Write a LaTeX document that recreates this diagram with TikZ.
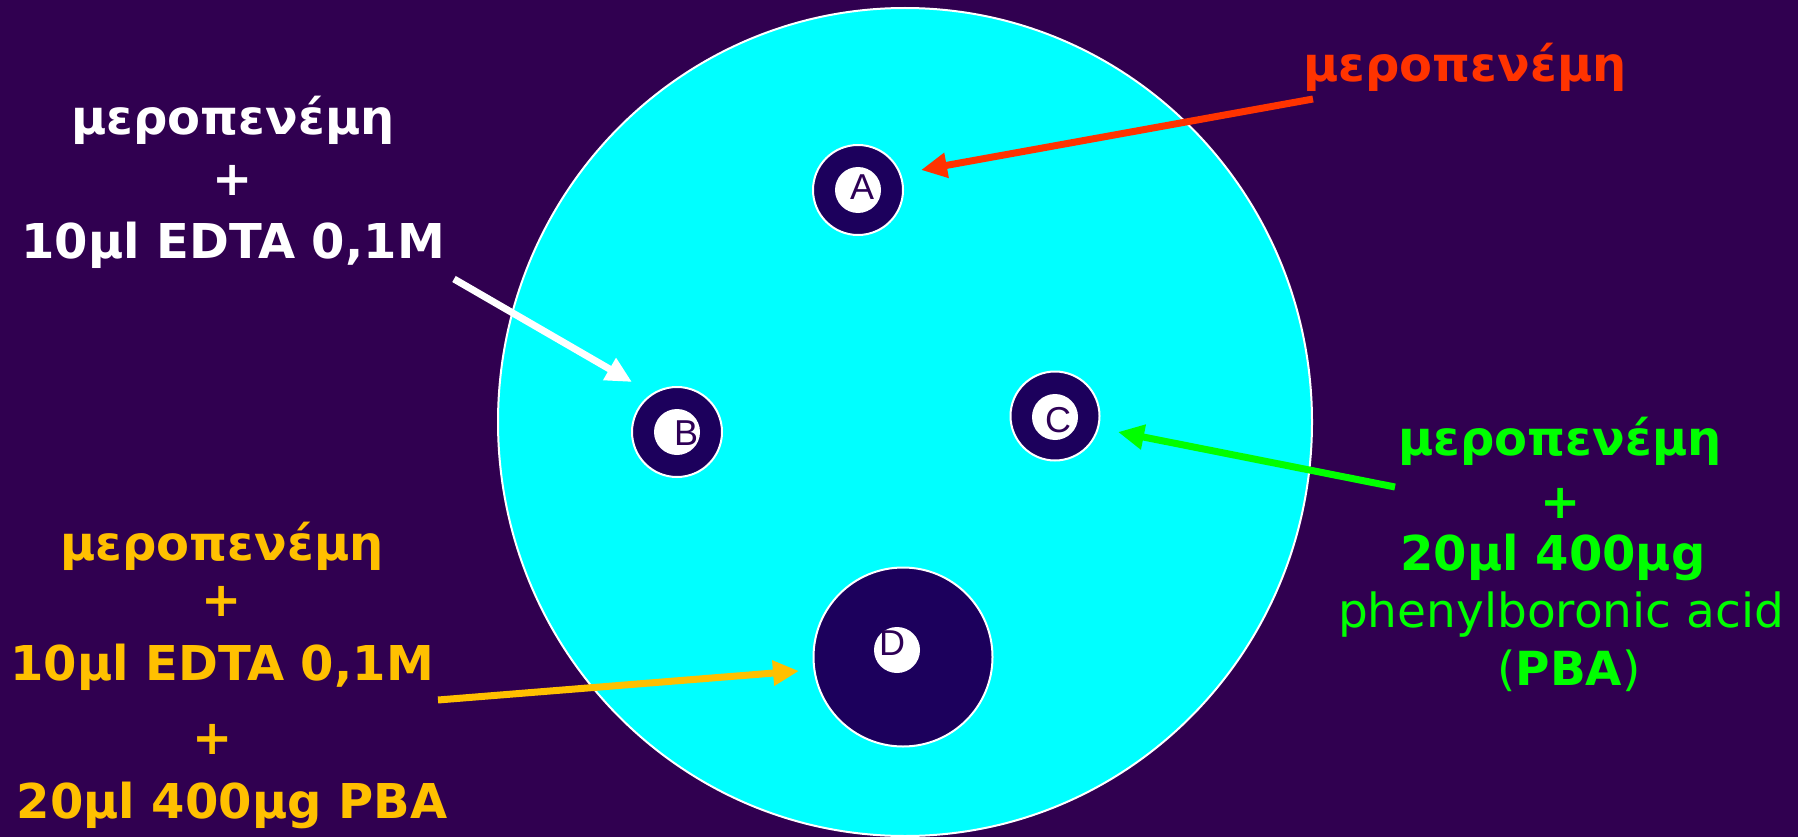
\documentclass[tikz,border=0pt]{standalone}
\usepackage{fontspec}
\setmainfont{DejaVu Sans}
\newfontfamily\letterfont{Liberation Sans}
\usetikzlibrary{arrows.meta}
\definecolor{bgcol}{RGB}{48,0,80}
\definecolor{platecol}{RGB}{0,255,255}
\definecolor{disccol}{RGB}{28,0,92}
\definecolor{lettercol}{RGB}{46,0,86}
\definecolor{redtxt}{RGB}{255,51,0}
\definecolor{greentxt}{RGB}{0,255,0}
\definecolor{yellowtxt}{RGB}{255,192,0}
\begin{document}
\begin{tikzpicture}[x=1pt,y=-1pt,
  txt/.style={font=\fontsize{48}{56}\selectfont\bfseries, anchor=base, inner sep=0pt},
  txtreg/.style={font=\fontsize{47}{56}\selectfont, anchor=base, inner sep=0pt},
  disc/.style={circle, draw=white, line width=2pt, fill=disccol, inner sep=0pt},
  spot/.style={circle, fill=white, inner sep=0pt, minimum size=46pt},
  lett/.style={font=\fontsize{36}{40}\selectfont\letterfont, text=lettercol, inner sep=0pt},
  arr/.style={line width=7pt, -{Triangle[length=26pt,width=24pt]}}
]
\fill[bgcol] (0,0) rectangle (1798,837);
\useasboundingbox (0,0) rectangle (1798,837);

% plate
\draw[white, line width=2pt, fill=platecol] (905,422) ellipse [x radius=407pt, y radius=414pt];

% discs
\node[disc, minimum size=90pt] (dA) at (858,190) {};
\node[disc, minimum size=90pt] (dB) at (677,432) {};
\node[disc, minimum size=89pt] (dC) at (1055,416) {};
\node[disc, minimum size=179pt] (dD) at (903,657) {};
\node[spot] (sA) at (858,190) {};
\node[spot] (sB) at (677,432) {};
\node[spot] (sC) at (1055,417) {};
\node[spot] (sD) at (897,650) {};
\node[lett] (lA) at (862,187) {A};
\node[lett] (lB) at (686,433) {B};
\node[lett] (lC) at (1058,420) {C};
\node[lett] (lD) at (892,643) {D};

% red label
\node[txt, text=redtxt] (r1) at (1465,82) {μεροπενέμη};

% white label
\node[txt, text=white] (w1) at (233,135) {μεροπενέμη};
\node[txt, text=white] (w2) at (233,196) {+};
\node[txt, text=white] (w3) at (233,258) {10μl EDTA 0,1M};

% green label
\node[txt, text=greentxt] (g1) at (1560,455) {μεροπενέμη};
\node[txt, text=greentxt] (g2) at (1561,518) {+};
\node[txt, text=greentxt] (g3) at (1553,570) {20μl 400μg};
\node[txtreg, text=greentxt] (g4) at (1561,627) {phenylboronic acid};
\node[txtreg, text=greentxt] (g5) at (1569,685) {(\textbf{PBA})};

% yellow label
\node[txt, text=yellowtxt] (y1) at (222,560) {μεροπενέμη};
\node[txt, text=yellowtxt] (y2) at (222,616) {+};
\node[txt, text=yellowtxt] (y3) at (222,680) {10μl EDTA 0,1M};
\node[txt, text=yellowtxt] (y4) at (213,754) {+};
\node[txt, text=yellowtxt] (y5) at (232,818) {20μl 400μg PBA};

% arrows
\coordinate (rs) at (1313,99);  \coordinate (re) at (921,170);
\coordinate (ws) at (454,279);  \coordinate (we) at (632,382);
\coordinate (gs) at (1395,487); \coordinate (ge) at (1118,432);
\coordinate (ys) at (438,700);  \coordinate (ye) at (799,671);
\draw[arr, draw=redtxt, fill=redtxt] (rs) -- (re);
\draw[arr, draw=white, fill=white] (ws) -- (we);
\draw[arr, draw=greentxt, fill=greentxt] (gs) -- (ge);
\draw[arr, draw=yellowtxt, fill=yellowtxt] (ys) -- (ye);
\end{tikzpicture}
\end{document}
